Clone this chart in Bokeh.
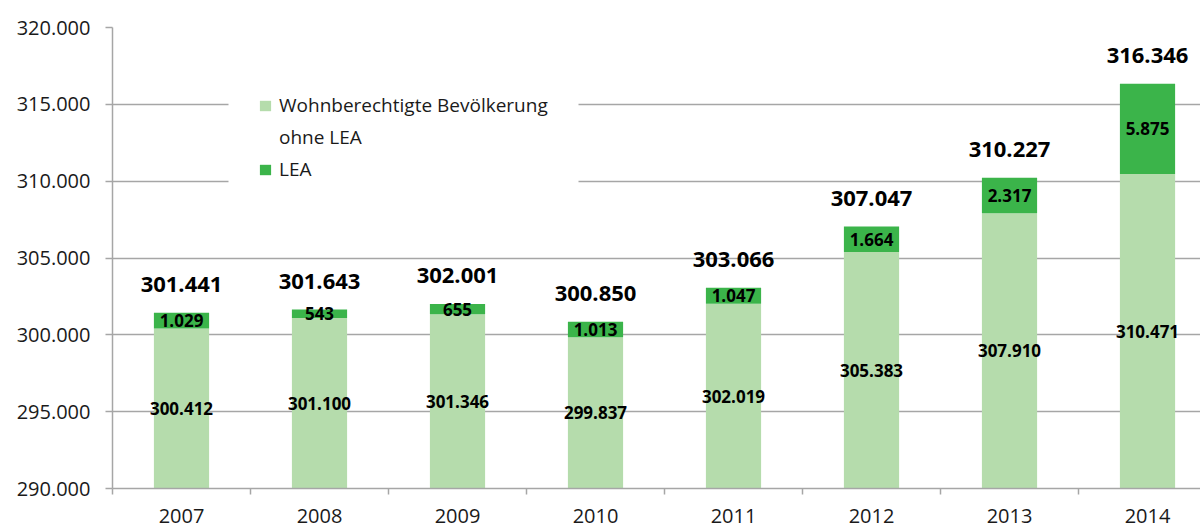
from bokeh.plotting import figure
from bokeh.models import (ColumnDataSource, Range1d, FixedTicker, Legend, LegendItem,
                          BoxAnnotation)
from bokeh.core.properties import value
from bokeh.embed import file_html
from bokeh.resources import INLINE
import numpy as np

years = ["2007", "2008", "2009", "2010", "2011", "2012", "2013", "2014"]
base = [300412, 301100, 301346, 299837, 302019, 305383, 307910, 310471]
lea = [1029, 543, 655, 1013, 1047, 1664, 2317, 5875]
series_names = ["Wohnberechtigte Bevölkerung", "ohne LEA", "LEA"]
y_ticks = [290000, 295000, 300000, 305000, 310000, 315000, 320000]

FONT = "Open Sans"
LIGHT = "#b5dcac"
DARK = "#3bb44a"
GRID = "#a6a6a6"

def de(v):
    return f"{v:,}".replace(",", ".")

xs = np.arange(len(years)) + 0.5
total = [b + l for b, l in zip(base, lea)]
src = ColumnDataSource(dict(
    x=xs, base=base, lea=lea, total=total,
    floor=[y_ticks[0]] * len(years),
    mid_base=[(y_ticks[0] + b) / 2 for b in base],
    mid_lea=[b + l / 2 for b, l in zip(base, lea)],
    base_lbl=[de(v) for v in base],
    lea_lbl=[de(v) for v in lea],
    tot_lbl=[de(v) for v in total],
))

p = figure(width=1200, height=528, output_backend="svg", toolbar_location=None,
           x_range=Range1d(0, 7.884), y_range=Range1d(y_ticks[0], y_ticks[-1]),
           min_border_left=112, min_border_right=0, min_border_top=27, min_border_bottom=40)
p.outline_line_color = None
p.background_fill_color = "white"

r1 = p.vbar(x="x", width=0.4, bottom="floor", top="base", source=src,
            fill_color=LIGHT, line_color=None)
r2 = p.vbar(x="x", width=0.4, bottom="base", top="total", source=src,
            fill_color=DARK, line_color=None)
r_blank = p.vbar(x="x", width=0.4, bottom="floor", top="floor", source=src,
                 fill_alpha=0, line_alpha=0)

p.text(x="x", y="mid_base", text="base_lbl", source=src, text_align="center",
       text_baseline="middle", text_font=value(FONT), text_font_size="17px",
       text_font_style="bold", text_color="black")
p.text(x="x", y="mid_lea", text="lea_lbl", source=src, text_align="center",
       text_baseline="middle", text_font=value(FONT), text_font_size="17px",
       text_font_style="bold", text_color="black")
p.text(x="x", y="total", text="tot_lbl", source=src, text_align="center",
       text_baseline="bottom", y_offset=-21, text_font=value(FONT), text_font_size="22px",
       text_font_style="bold", text_color="black")

# axes
p.yaxis.ticker = FixedTicker(ticks=y_ticks)
p.yaxis.major_label_overrides = {t: de(t) for t in y_ticks}
p.yaxis.major_label_text_font = FONT
p.yaxis.major_label_text_font_size = "20px"
p.yaxis.major_label_text_color = "#1a1a1a"
p.yaxis.major_tick_out = 7
p.yaxis.major_tick_in = 0
p.yaxis.minor_tick_out = 0
p.yaxis.minor_tick_in = 0
p.yaxis.major_label_standoff = 15
p.yaxis.axis_line_color = GRID
p.yaxis.axis_line_width = 1.5
p.yaxis.major_tick_line_color = GRID
p.yaxis.major_tick_line_width = 1.5

p.xaxis.ticker = FixedTicker(ticks=list(xs), minor_ticks=list(range(len(years) + 1)))
p.xaxis.major_label_overrides = {float(x): y for x, y in zip(xs, years)}
p.xaxis.major_label_text_font = FONT
p.xaxis.major_label_text_font_size = "20px"
p.xaxis.major_label_text_color = "#1a1a1a"
p.xaxis.major_tick_out = 0
p.xaxis.major_tick_in = 0
p.xaxis.minor_tick_out = 6
p.xaxis.minor_tick_in = 0
p.xaxis.minor_tick_line_color = GRID
p.xaxis.minor_tick_line_width = 1.5
p.xaxis.major_label_standoff = 14
p.xaxis.axis_line_color = GRID
p.xaxis.axis_line_width = 1.5

p.xgrid.grid_line_color = None
p.ygrid.grid_line_color = GRID
p.ygrid.grid_line_width = 1.5
p.ygrid.level = "underlay"

# white backdrop behind the legend (hides gridlines there)
p.add_layout(BoxAnnotation(left=228, right=578, top=80, bottom=195,
                           left_units="canvas", right_units="canvas",
                           top_units="canvas", bottom_units="canvas",
                           fill_color="white", fill_alpha=1.0, line_alpha=0,
                           level="underlay"))

legend = Legend(items=[LegendItem(label=series_names[0], renderers=[r1]),
                       LegendItem(label=series_names[1], renderers=[r_blank]),
                       LegendItem(label=series_names[2], renderers=[r2])],
                location=(146, 306), padding=30, spacing=6,
                glyph_width=14, glyph_height=13, label_standoff=7, label_height=20,
                label_width=297,
                label_text_font=FONT, label_text_font_size="19px",
                label_text_color="#1a1a1a",
                border_line_color=None, background_fill_color="white",
                background_fill_alpha=0.0)
p.add_layout(legend, "center")

open("out.html", "w").write(file_html(p, INLINE))
